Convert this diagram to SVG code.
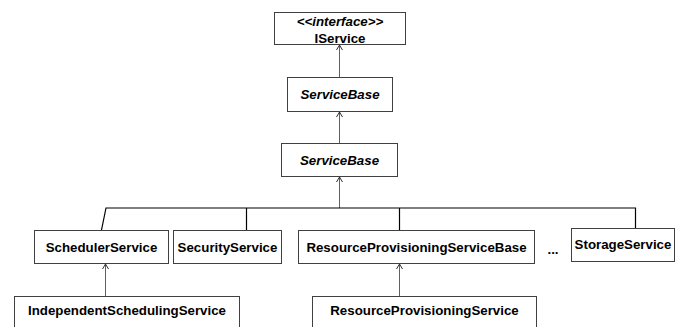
<svg xmlns="http://www.w3.org/2000/svg" width="691" height="327" viewBox="0 0 691 327">
<defs>
<marker id="open" markerWidth="8" markerHeight="8" refX="7" refY="4" orient="auto" markerUnits="userSpaceOnUse" viewBox="0 0 8 8">
<path d="M2,1 L7,4 L2,7" fill="none" stroke="#303030" stroke-width="1"/>
</marker>
</defs>
<style>
.box{fill:#fff;stroke:#404040;stroke-width:1}
.t{font-family:"Liberation Sans",Arial,sans-serif;font-size:13.3px;font-weight:bold;fill:#000;text-anchor:middle}
.i{font-style:italic}
.bus{fill:none;stroke:#000;stroke-width:1.2}
.arr{fill:none;stroke:#606060;stroke-width:1}
</style>
<rect width="691" height="327" fill="#fff"/>
<g id="connectors">
<line class="arr" x1="339.5" y1="77" x2="339.5" y2="45" marker-end="url(#open)"/>
<line class="arr" x1="339.5" y1="143" x2="339.5" y2="112" marker-end="url(#open)"/>
<line class="arr" x1="339.5" y1="208" x2="339.5" y2="177" marker-end="url(#open)"/>
<polyline class="bus" points="101.5,230 106,208 635.5,208 635.5,228"/>
<line class="bus" x1="246.5" y1="208" x2="246.5" y2="230"/>
<line class="bus" x1="399.5" y1="208" x2="399.5" y2="230"/>
<line class="arr" x1="105.5" y1="296" x2="105.5" y2="264" marker-end="url(#open)"/>
<line class="arr" x1="399.5" y1="296" x2="399.5" y2="264" marker-end="url(#open)"/>
</g>
<g id="IService">
<rect class="box" x="274.5" y="12.5" width="131" height="32"/>
<text class="t i" x="340" y="26">&lt;&lt;interface&gt;&gt;</text>
<text class="t" x="340" y="43">IService</text>
</g>
<g id="ServiceBase1">
<rect class="box" x="287.5" y="77.5" width="105" height="34"/>
<text class="t i" x="340" y="99">ServiceBase</text>
</g>
<g id="ServiceBase2">
<rect class="box" x="281.5" y="143.5" width="116" height="33"/>
<text class="t i" x="339.5" y="165">ServiceBase</text>
</g>
<g id="SchedulerService">
<rect class="box" x="34.5" y="230.5" width="134" height="33"/>
<text class="t" x="101.5" y="252">SchedulerService</text>
</g>
<g id="SecurityService">
<rect class="box" x="173.5" y="230.5" width="108" height="33" stroke="#808080"/>
<text class="t" x="227.5" y="252">SecurityService</text>
</g>
<g id="ResourceProvisioningServiceBase">
<rect class="box" x="298.5" y="230.5" width="236" height="33"/>
<text class="t" x="416.5" y="252">ResourceProvisioningServiceBase</text>
</g>
<g id="ellipsis">
<text class="t" x="553" y="254">...</text>
</g>
<g id="StorageService">
<rect class="box" x="571.5" y="228.5" width="103" height="33"/>
<text class="t" x="623" y="249">StorageService</text>
</g>
<g id="IndependentSchedulingService">
<rect class="box" x="14.5" y="296.5" width="225" height="40"/>
<text class="t" x="127" y="315">IndependentSchedulingService</text>
</g>
<g id="ResourceProvisioningService">
<rect class="box" x="312.5" y="296.5" width="224" height="40"/>
<text class="t" x="424.5" y="315">ResourceProvisioningService</text>
</g>
</svg>
